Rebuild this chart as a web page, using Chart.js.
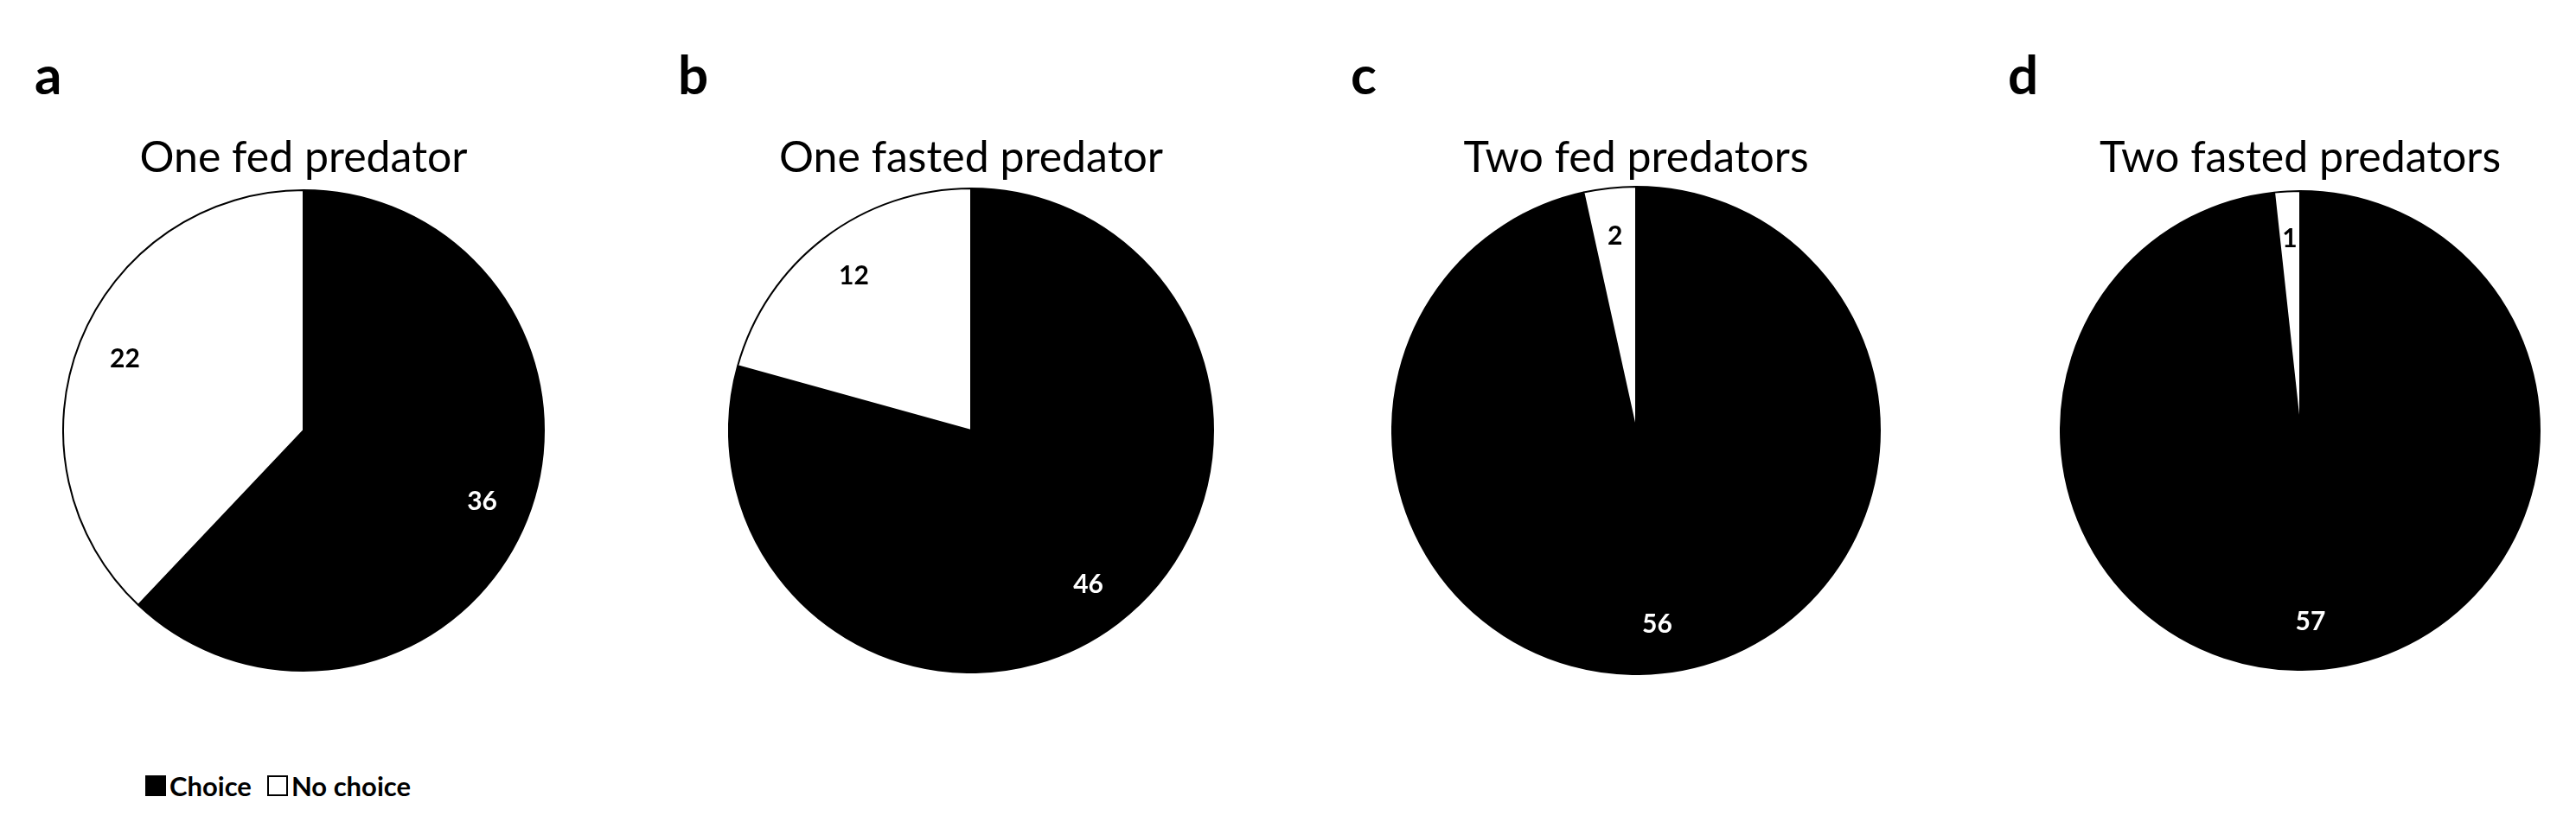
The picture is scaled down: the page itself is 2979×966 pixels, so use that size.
<!DOCTYPE html>
<html><head><meta charset="utf-8">
<script src="https://cdn.jsdelivr.net/npm/chart.js@4"></script>
<style>
body{margin:0;width:2979px;height:966px;background:#fff;position:relative;overflow:hidden;font-family:Lato,"Open Sans",sans-serif;}
.t{position:absolute;font-size:50px;color:#000;transform:translate(-50%,-50%);white-space:nowrap}
.l{position:absolute;font-size:62px;font-weight:bold;transform:translateY(-50%)}
canvas{position:absolute}
.leg{position:absolute;top:890px;left:168px;font-size:31px;font-weight:bold;display:flex;align-items:center}
.sq{display:inline-block;width:24px;height:24px;border:2px solid #000;box-sizing:border-box;margin-right:4px}
</style></head><body>
<script>
const categories = ["Choice", "No choice"];
const titles = ["One fed predator", "One fasted predator", "Two fed predators", "Two fasted predators"];
const letters = ["a", "b", "c", "d"];
const choiceValues = [36, 46, 56, 57];
const noChoiceValues = [22, 12, 2, 1];

const centersX = [351, 1123, 1892, 2660];
const centerY = 498;
const radii = [277, 279, 281, 276];
const letterX = [40, 784, 1562, 2322];

const labelPlugin = {
  id: 'sliceLabels',
  afterDatasetsDraw(chart) {
    const ctx = chart.ctx;
    const meta = chart.getDatasetMeta(0);
    const data = chart.data.datasets[0].data;
    meta.data.forEach((arc, i) => {
      const p = arc.getProps(['x','y','startAngle','endAngle','outerRadius'], true);
      const mid = (p.startAngle + p.endAngle) / 2;
      const r = p.outerRadius * 0.8;
      ctx.save();
      ctx.font = 'bold 30px Lato, "Open Sans", sans-serif';
      ctx.textAlign = 'center'; ctx.textBaseline = 'middle';
      ctx.fillStyle = i === 0 ? '#fff' : '#000';
      ctx.fillText(String(data[i]), p.x + Math.cos(mid) * r, p.y + Math.sin(mid) * r);
      ctx.restore();
    });
  }
};

for (let k = 0; k < 4; k++) {
  const r = radii[k], size = 2 * r + 4;
  const c = document.createElement('canvas');
  c.width = size; c.height = size;
  c.style.left = (centersX[k] - size / 2) + 'px';
  c.style.top = (centerY - size / 2) + 'px';
  c.style.width = size + 'px'; c.style.height = size + 'px';
  document.body.appendChild(c);
  new Chart(c, {
    type: 'pie',
    data: { labels: categories, datasets: [{
      data: [choiceValues[k], noChoiceValues[k]],
      backgroundColor: ['#000', '#fff'],
      borderColor: '#000', borderWidth: 2
    }]},
    options: {
      responsive: false, animation: false, devicePixelRatio: 1,
      layout: { padding: 0 },
      plugins: { legend: { display: false }, tooltip: { enabled: false } }
    },
    plugins: [labelPlugin]
  });
  const t = document.createElement('div'); t.className = 't';
  t.textContent = titles[k]; t.style.left = centersX[k] + 'px'; t.style.top = '180px';
  document.body.appendChild(t);
  const l = document.createElement('div'); l.className = 'l';
  l.textContent = letters[k]; l.style.left = letterX[k] + 'px'; l.style.top = '85px';
  document.body.appendChild(l);
}
const leg = document.createElement('div'); leg.className = 'leg';
leg.innerHTML = '<span class="sq" style="background:#000"></span><span>' + categories[0] +
  '</span><span class="sq" style="background:#fff;margin-left:18px"></span><span>' + categories[1] + '</span>';
document.body.appendChild(leg);
</script>
</body></html>
